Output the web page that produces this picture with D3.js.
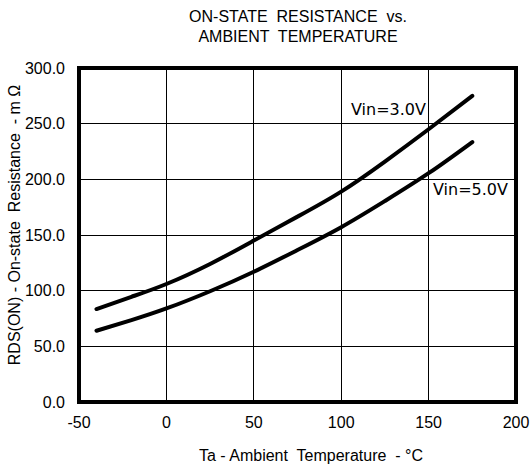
<!DOCTYPE html>
<html><head><meta charset="utf-8">
<script src="https://cdn.jsdelivr.net/npm/d3@7"></script>
<style>body{margin:0;background:#fff}text{white-space:pre}</style>
</head><body>
<svg id="c" width="532" height="468"></svg>
<script>
const temps = [-40, -20, 0, 25, 50, 75, 100, 125, 150, 175];
const vin3 = [83.5, 94.5, 106, 124, 145, 166.5, 189, 216, 245, 275];
const vin5 = [64, 73.5, 84, 99.5, 117, 136.5, 157, 180.5, 205.5, 233.5];
const xTicks = [-50, 0, 50, 100, 150, 200];
const yTicks = [0, 50, 100, 150, 200, 250, 300];
const titleLines = ["ON-STATE  RESISTANCE  vs.", "AMBIENT  TEMPERATURE"];
const xTitle = "Ta - Ambient  Temperature  - °C";
const yTitle = "RDS(ON) - On-state  Resistance  - m Ω";
const seriesLabels = ["Vin=3.0V", "Vin=5.0V"];

const svg = d3.select("#c");
const L = 79, R = 516, T = 68, B = 402;
const x = d3.scaleLinear().domain([-50, 200]).range([L, R]);
const y = d3.scaleLinear().domain([0, 300]).range([B, T]);
const font = "Liberation Sans, Arial, sans-serif";
const fs = 16;

// grid
svg.append("g").selectAll("line").data(xTicks.slice(1, -1)).join("line")
  .attr("x1", d => x(d)).attr("x2", d => x(d)).attr("y1", T).attr("y2", B)
  .attr("stroke", "#000").attr("stroke-width", 1).attr("shape-rendering", "crispEdges");
svg.append("g").selectAll("line").data(yTicks.slice(1, -1)).join("line")
  .attr("y1", d => y(d)).attr("y2", d => y(d)).attr("x1", L).attr("x2", R)
  .attr("stroke", "#000").attr("stroke-width", 1).attr("shape-rendering", "crispEdges");

// curves
const line = d3.line().x(d => x(d[0])).y(d => y(d[1])).curve(d3.curveNatural);
[vin3, vin5].forEach(vals => {
  svg.append("path").datum(temps.map((t, i) => [t, vals[i]]))
    .attr("d", line).attr("fill", "none").attr("stroke", "#000")
    .attr("stroke-width", 4).attr("stroke-linecap", "round");
});

// frame
svg.append("rect").attr("x", L).attr("y", T).attr("width", R - L).attr("height", B - T)
  .attr("fill", "none").attr("stroke", "#000").attr("stroke-width", 4);

// tick labels
svg.append("g").selectAll("text").data(yTicks).join("text")
  .attr("x", 65).attr("y", d => y(d)).attr("dy", "0.35em")
  .attr("text-anchor", "end").attr("font-family", font).attr("font-size", fs)
  .text(d => d.toFixed(1));
svg.append("g").selectAll("text").data(xTicks).join("text")
  .attr("x", d => x(d)).attr("y", 428)
  .attr("text-anchor", "middle").attr("font-family", font).attr("font-size", fs)
  .text(d => d);

// titles
svg.append("g").selectAll("text").data(titleLines).join("text")
  .attr("x", 298).attr("y", (d, i) => 22 + i * 20)
  .attr("text-anchor", "middle").attr("font-family", font).attr("font-size", fs)
  .text(d => d);
svg.append("text").attr("x", 311).attr("y", 461).attr("text-anchor", "middle")
  .attr("font-family", font).attr("font-size", fs).text(xTitle);
svg.append("text").attr("transform", "translate(20,225) rotate(-90)")
  .attr("text-anchor", "middle").attr("font-family", font).attr("font-size", fs).text(yTitle);

// series labels
const lf = "DejaVu Sans, sans-serif";
svg.append("text").attr("x", 351).attr("y", 115).attr("font-family", lf).attr("font-size", 16).text(seriesLabels[0]);
svg.append("text").attr("x", 433).attr("y", 195).attr("font-family", lf).attr("font-size", 16).text(seriesLabels[1]);
</script>
</body></html>
